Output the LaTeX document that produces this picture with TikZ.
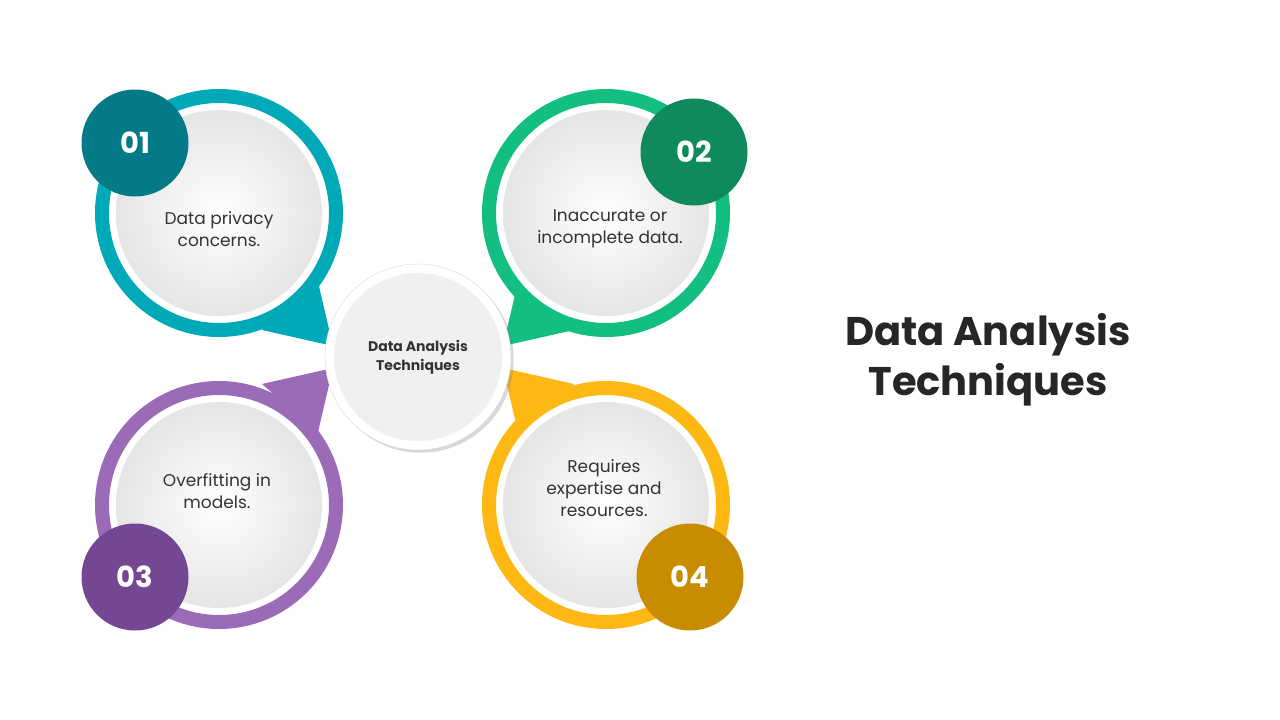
\documentclass[tikz,border=0pt]{standalone}
\usepackage{fontspec}
\setmainfont{Poppins}
\usepackage{tikz}
\usetikzlibrary{shadows}
\definecolor{cteal}{HTML}{00A9B8}
\definecolor{cgreen}{HTML}{13BF80}
\definecolor{cpurple}{HTML}{9B6BB8}
\definecolor{cyellow}{HTML}{FDB813}
\definecolor{dteal}{HTML}{047A87}
\definecolor{dgreen}{HTML}{0E8A5C}
\definecolor{dpurple}{HTML}{734792}
\definecolor{dyellow}{HTML}{C78C00}
\definecolor{txt}{HTML}{333333}
\tikzset{
  ring/.style={circle, draw=#1, line width=14pt, fill=white, minimum size=234pt, inner sep=0pt},
  disc/.style={circle, inner sep=0pt, minimum size=206pt, inner color=white, outer color=black!10},
  badge/.style={circle, fill=#1, minimum size=107pt, inner sep=0pt, text=white, font=\bfseries\fontsize{29}{30}\selectfont},
  label/.style={align=center, text=txt, font=\fontsize{17}{22}\selectfont}
}
\begin{document}
\begin{tikzpicture}[x=1pt,y=-1pt]
    \useasboundingbox[fill=white] (0,0) rectangle (1280,720);
    % Pointers towards the centre
    \fill[cteal] (262,330) -- (318,282) -- (333,346) -- cycle;
    \fill[cgreen] (574,330) -- (518,282) -- (503,346) -- cycle;
    \fill[cpurple] (262,384) -- (318,432) -- (333,368) -- cycle;
    \fill[cyellow] (574,384) -- (518,432) -- (503,368) -- cycle;

    % Rings
    \node[ring=cteal] (r1) at (219,213) {};
    \node[ring=cgreen] (r2) at (606,213) {};
    \node[ring=cpurple] (r3) at (219,505) {};
    \node[ring=cyellow] (r4) at (606,505) {};
    \foreach \n in {1,2,3,4}
        \node[disc] (d\n) at (r\n) {};

    % Texts
    \node[label] (t1) at (219,229) {Data privacy\\concerns.};
    \node[label] (t2) at (610,229) {Inaccurate or\\incomplete data.};
    \node[label] (t3) at (217,491) {Overfitting in\\models.};
    \node[label] (t4) at (604,488) {Requires\\expertise and\\resources.};

    % Badges
    \node[badge=dteal] (b1) at (135,143) {01};
    \node[badge=dgreen] (b2) at (694,152) {02};
    \node[badge=dpurple] (b3) at (135,577) {03};
    \node[badge=dyellow] (b4) at (690,577) {04};

    % Centre
    \node[circle, fill=white, draw=black!15, minimum size=186pt, inner sep=0pt,
          drop shadow={opacity=0.3}] (hub) at (418,357) {};
    \node[circle, fill=black!6, minimum size=168pt, inner sep=0pt, align=center,
          text=txt, font=\bfseries\fontsize{14}{19}\selectfont] (core) at (hub)
          {Data Analysis\\Techniques};

    % Title
    \node[align=center, text=black!85, font=\bfseries\fontsize{40}{50}\selectfont]
        (title) at (988,360) {Data Analysis\\Techniques};
\end{tikzpicture}
\end{document}
